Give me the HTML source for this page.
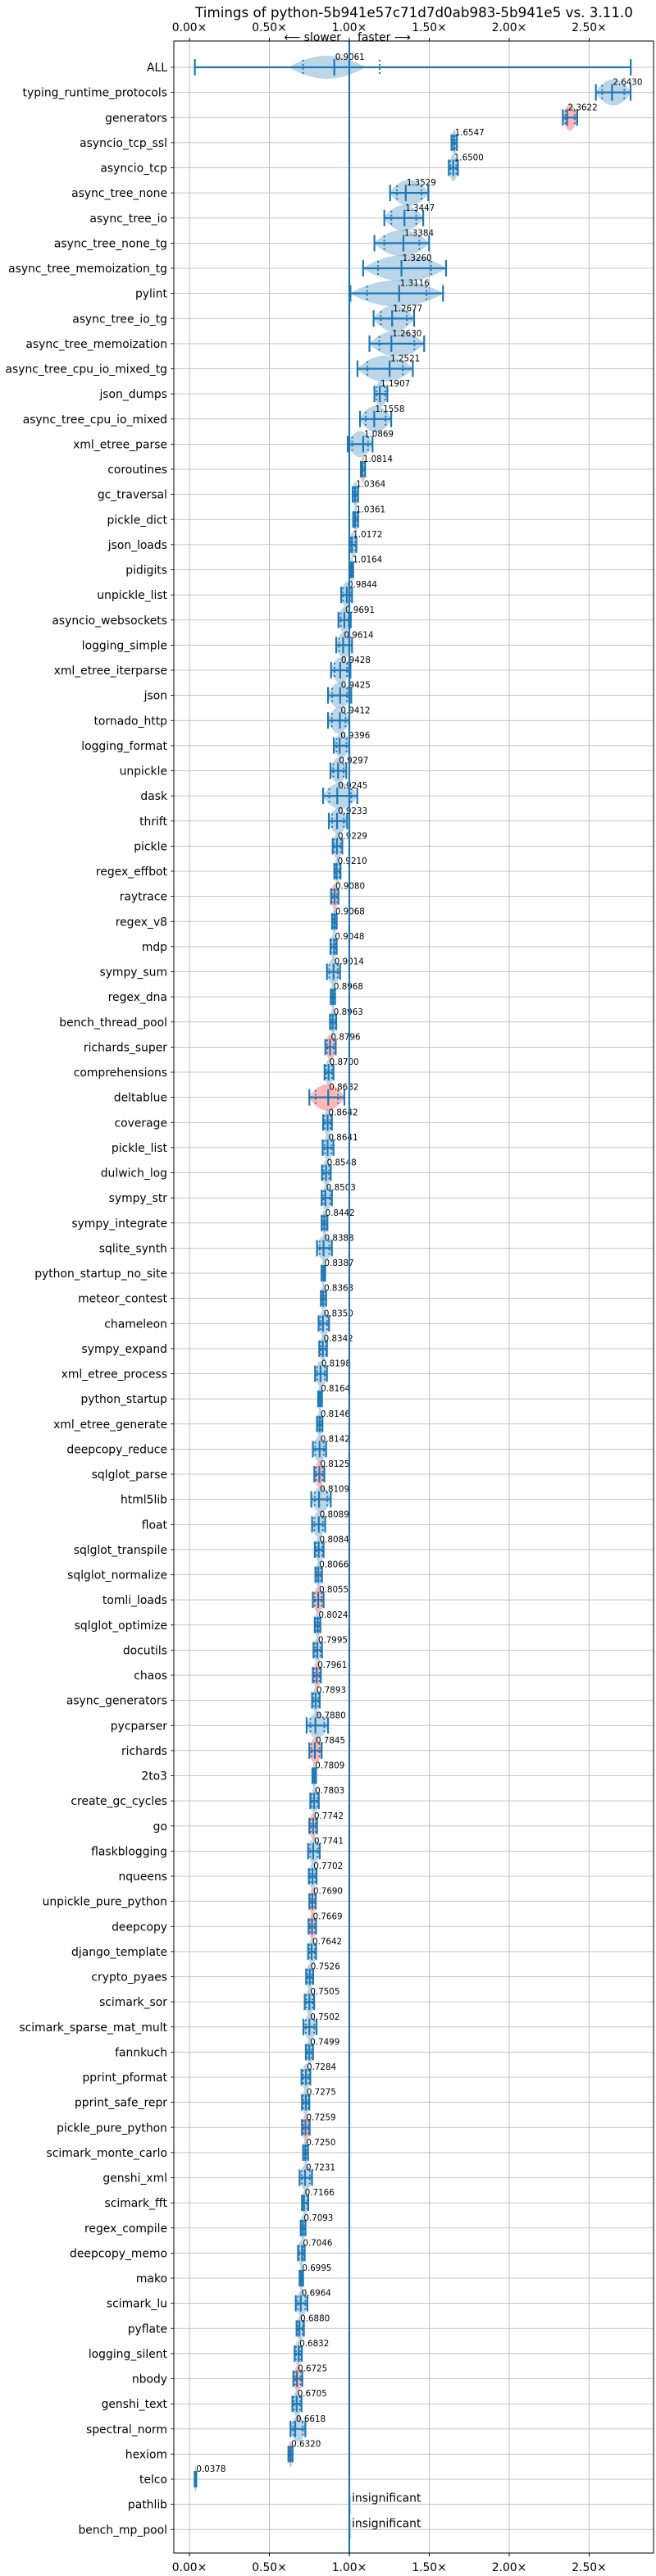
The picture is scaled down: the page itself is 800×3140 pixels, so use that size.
<!DOCTYPE html>
<html><head><meta charset="utf-8"><style>
html,body{margin:0;padding:0;background:#fff;}
svg{display:block;font-family:"DejaVu Sans","Liberation Sans",sans-serif;}
</style></head><body>
<svg id="chart" width="800" height="3140" viewBox="0 0 800 3140" xmlns="http://www.w3.org/2000/svg"></svg>
<script>
const names = ["ALL","typing_runtime_protocols","generators","asyncio_tcp_ssl","asyncio_tcp","async_tree_none","async_tree_io","async_tree_none_tg","async_tree_memoization_tg","pylint","async_tree_io_tg","async_tree_memoization","async_tree_cpu_io_mixed_tg","json_dumps","async_tree_cpu_io_mixed","xml_etree_parse","coroutines","gc_traversal","pickle_dict","json_loads","pidigits","unpickle_list","asyncio_websockets","logging_simple","xml_etree_iterparse","json","tornado_http","logging_format","unpickle","dask","thrift","pickle","regex_effbot","raytrace","regex_v8","mdp","sympy_sum","regex_dna","bench_thread_pool","richards_super","comprehensions","deltablue","coverage","pickle_list","dulwich_log","sympy_str","sympy_integrate","sqlite_synth","python_startup_no_site","meteor_contest","chameleon","sympy_expand","xml_etree_process","python_startup","xml_etree_generate","deepcopy_reduce","sqlglot_parse","html5lib","float","sqlglot_transpile","sqlglot_normalize","tomli_loads","sqlglot_optimize","docutils","chaos","async_generators","pycparser","richards","2to3","create_gc_cycles","go","flaskblogging","nqueens","unpickle_pure_python","deepcopy","django_template","crypto_pyaes","scimark_sor","scimark_sparse_mat_mult","fannkuch","pprint_pformat","pprint_safe_repr","pickle_pure_python","scimark_monte_carlo","genshi_xml","scimark_fft","regex_compile","deepcopy_memo","mako","scimark_lu","pyflate","logging_silent","nbody","genshi_text","spectral_norm","hexiom","telco","pathlib","bench_mp_pool"];
const values = [0.9061,2.6430,2.3622,1.6547,1.6500,1.3529,1.3447,1.3384,1.3260,1.3116,1.2677,1.2630,1.2521,1.1907,1.1558,1.0869,1.0814,1.0364,1.0361,1.0172,1.0164,0.9844,0.9691,0.9614,0.9428,0.9425,0.9412,0.9396,0.9297,0.9245,0.9233,0.9229,0.9210,0.9080,0.9068,0.9048,0.9014,0.8968,0.8963,0.8796,0.8700,0.8682,0.8642,0.8641,0.8548,0.8503,0.8442,0.8388,0.8387,0.8363,0.8350,0.8342,0.8198,0.8164,0.8146,0.8142,0.8125,0.8109,0.8089,0.8084,0.8066,0.8055,0.8024,0.7995,0.7961,0.7893,0.7880,0.7845,0.7809,0.7803,0.7742,0.7741,0.7702,0.7690,0.7669,0.7642,0.7526,0.7505,0.7502,0.7499,0.7284,0.7275,0.7259,0.7250,0.7231,0.7166,0.7093,0.7046,0.6995,0.6964,0.6880,0.6832,0.6725,0.6705,0.6618,0.6320,0.0378,null,null];
const lows = [0.034,2.542,2.335,1.639,1.622,1.255,1.219,1.157,1.086,1.007,1.152,1.126,1.051,1.157,1.067,0.99,1.072,1.021,1.024,1.003,1.009,0.949,0.932,0.918,0.886,0.867,0.867,0.903,0.882,0.836,0.872,0.896,0.906,0.886,0.892,0.882,0.860,0.884,0.879,0.850,0.845,0.750,0.836,0.833,0.829,0.827,0.827,0.798,0.826,0.822,0.808,0.812,0.786,0.805,0.798,0.772,0.781,0.762,0.767,0.784,0.788,0.772,0.784,0.776,0.772,0.767,0.733,0.750,0.769,0.756,0.750,0.742,0.747,0.750,0.745,0.742,0.730,0.721,0.713,0.728,0.701,0.704,0.704,0.711,0.689,0.704,0.696,0.679,0.689,0.665,0.670,0.658,0.650,0.644,0.632,0.619,0.033,null,null];
const highs = [2.76,2.759,2.425,1.673,1.679,1.494,1.462,1.499,1.605,1.586,1.405,1.468,1.397,1.238,1.262,1.145,1.099,1.055,1.055,1.044,1.024,1.017,1.009,1.017,1.007,1.012,1.0,1.0,0.981,1.050,0.986,0.956,0.945,0.932,0.921,0.921,0.942,0.911,0.918,0.915,0.901,0.969,0.891,0.901,0.884,0.891,0.863,0.891,0.849,0.855,0.873,0.860,0.860,0.829,0.832,0.855,0.844,0.884,0.849,0.839,0.829,0.839,0.819,0.829,0.822,0.815,0.867,0.827,0.792,0.809,0.798,0.815,0.795,0.790,0.792,0.792,0.774,0.780,0.795,0.773,0.756,0.750,0.752,0.742,0.767,0.743,0.726,0.721,0.711,0.738,0.716,0.703,0.706,0.701,0.725,0.645,0.043,null,null];
const slowerRows = [2,16,33,39,41,56,61,64,67,70,73,74,82,92,95];
const xTicks = [0,0.5,1.0,1.5,2.0,2.5];
const xTickLabels = ["0.00×","0.50×","1.00×","1.50×","2.00×","2.50×"];

const svg = document.getElementById('chart');
const NS = "http://www.w3.org/2000/svg";
const L=212,R=797,T=50,B=3112;
function xs(v){return 231+v*195;}
function ys(i){return 82+i*30.625;}
function mk(tag,attrs,parent){const e=document.createElementNS(NS,tag);for(const k in attrs)e.setAttribute(k,attrs[k]);(parent||svg).appendChild(e);return e;}

let t=mk('text',{x:505,y:21,'text-anchor':'middle','font-size':'16.7'});t.textContent="Timings of python-5b941e57c71d7d0ab983-5b941e5 vs. 3.11.0";

t=mk('text',{x:416,y:50,'text-anchor':'end','font-size':'13.9'});t.textContent="⟵ slower";

t=mk('text',{x:436,y:50,'text-anchor':'start','font-size':'13.9'});t.textContent="faster ⟶";


const grid=mk('g',{stroke:'#b0b0b0','stroke-width':'0.8'});

xTicks.forEach((v,k)=>{
  mk('line',{x1:xs(v),x2:xs(v),y1:T,y2:B},grid);
  mk('line',{x1:xs(v),x2:xs(v),y1:T,y2:T-4,stroke:'#000'});
  mk('line',{x1:xs(v),x2:xs(v),y1:B,y2:B+4,stroke:'#000'});
  let a=mk('text',{x:xs(v),y:38,'text-anchor':'middle','font-size':'13.9'});a.textContent=xTickLabels[k];
  
  let b=mk('text',{x:xs(v),y:3134,'text-anchor':'middle','font-size':'13.9'});b.textContent=xTickLabels[k];
  
});
names.forEach((n,i)=>{
  const y=ys(i);
  mk('line',{x1:L,x2:R,y1:y,y2:y},grid);
  mk('line',{x1:L-4,x2:L,y1:y,y2:y,stroke:'#000','stroke-width':'0.8'});
  let lb=mk('text',{x:L-8,y:y+5,'text-anchor':'end','font-size':'13.9'});lb.textContent=n;
  
});

const marks=mk('g',{});

names.forEach((n,i)=>{
  const y=ys(i);
  const g=mk('g',{},marks);
  
  
  if(values[i]===null){
    mk('rect',{x:xs(1)-1,y:y-11,width:3,height:22,fill:'#bcd6e9'},g);
    let a=mk('text',{x:xs(1)+3,y:y-3,'font-size':'13.9'},g);a.textContent="insignificant";
    
    return;
  }
  const lo=lows[i],hi=highs[i],v=values[i];
  const fill=slowerRows.includes(i)?'rgba(255,0,0,0.28)':'rgba(31,119,180,0.3)';
  let vl=xs(lo)-1,vh=xs(hi)+1,h=16;
  if(i===0){vl=xs(0.62);vh=xs(1.1);h=14;}
  const mid=(vl+vh)/2;
  const vio=mk('path',{d:`M${vl},${y} Q${mid},${y-2*h} ${vh},${y} Q${mid},${y+2*h} ${vl},${y} Z`,fill:fill},g);
  
  const st={stroke:'#1f77b4','stroke-width':'2.2'};
  mk('line',Object.assign({x1:xs(lo),x2:xs(hi),y1:y,y2:y},st),g);
  mk('line',Object.assign({x1:xs(lo),x2:xs(lo),y1:y-10,y2:y+10},st),g);
  mk('line',Object.assign({x1:xs(hi),x2:xs(hi),y1:y-10,y2:y+10},st),g);
  mk('line',Object.assign({x1:xs(v),x2:xs(v),y1:y-10,y2:y+10},st),g);
  const q1=i===0?0.71:lo+(hi-lo)*0.18, q3=i===0?1.19:hi-(hi-lo)*0.18;
  [q1,q3].forEach(q=>mk('line',{x1:xs(q),x2:xs(q),y1:y-9,y2:y+9,stroke:'#1f77b4','stroke-width':'2','stroke-dasharray':'2,3'},g));
  let lab=mk('text',{x:xs(v)+1,y:y-9,'font-size':'10.3'},g);lab.textContent=v.toFixed(4);
  
});
const ref=mk('line',{x1:xs(1),x2:xs(1),y1:T,y2:B,stroke:'#1f77b4','stroke-width':'2.2'});

const fr=mk('rect',{x:L,y:T,width:R-L,height:B-T,fill:'none',stroke:'#000','stroke-width':'1'});

</script>
</body></html>
